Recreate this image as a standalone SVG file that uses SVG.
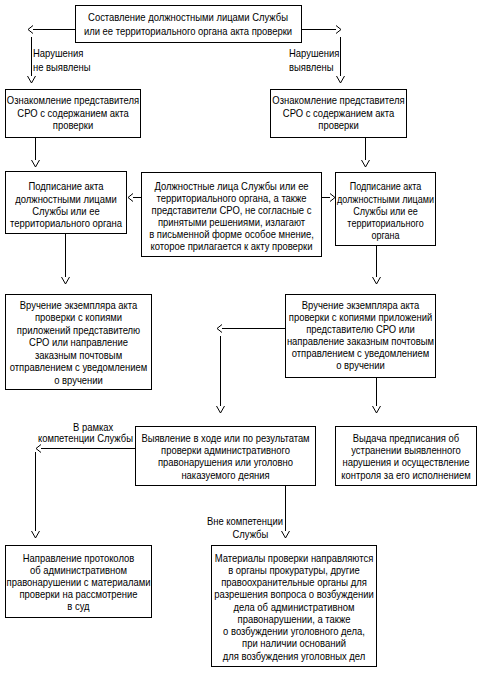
<svg xmlns="http://www.w3.org/2000/svg" width="484" height="675" viewBox="0 0 484 675">
<style>
.bx{fill:#fff;stroke:#000;stroke-width:1;shape-rendering:crispEdges}
.ln{fill:none;stroke:#000;stroke-width:1}
.t{font-family:"Liberation Sans",Arial,sans-serif;font-size:10.5px;fill:#000;text-anchor:middle}
.l{text-anchor:start}
</style>
<defs>
<marker id="ah" markerUnits="userSpaceOnUse" markerWidth="10" markerHeight="10" refX="0" refY="4" orient="auto" overflow="visible"><path d="M0,0 L5,4 L0,8" fill="none" stroke="#000" stroke-width="1"/></marker>
<marker id="av" markerUnits="userSpaceOnUse" markerWidth="10" markerHeight="10" refX="0" refY="4" orient="auto" overflow="visible"><path d="M0,0 L7,4 L0,8" fill="none" stroke="#000" stroke-width="1"/></marker>
</defs>
<rect width="484" height="675" fill="#fff"/>
<g id="connectors">
<path class="ln" d="M75.5,29.5 H33" marker-end="url(#ah)"/>
<path class="ln" d="M31.5,37 V76" marker-end="url(#av)"/>
<path class="ln" d="M301.5,29.5 H336" marker-end="url(#ah)"/>
<path class="ln" d="M340.5,37 V76" marker-end="url(#av)"/>
<path class="ln" d="M35.5,137.5 V160" marker-end="url(#av)"/>
<path class="ln" d="M365.5,137.5 V160" marker-end="url(#av)"/>
<path class="ln" d="M141.5,197.5 H133" marker-end="url(#ah)"/>
<path class="ln" d="M321.5,197.5 H330" marker-end="url(#ah)"/>
<path class="ln" d="M65.5,233.5 V277" marker-end="url(#av)"/>
<path class="ln" d="M376.5,245.5 V277" marker-end="url(#av)"/>
<path class="ln" d="M285.5,328.5 H222" marker-end="url(#ah)"/>
<path class="ln" d="M220.5,336 V406" marker-end="url(#av)"/>
<path class="ln" d="M376.5,377.5 V406" marker-end="url(#av)"/>
<path class="ln" d="M135.5,448.5 H41" marker-end="url(#ah)"/>
<path class="ln" d="M35.5,452 V531" marker-end="url(#av)"/>
<path class="ln" d="M285.5,485.5 V531" marker-end="url(#av)"/>
<text class="t l" transform="translate(33,0) scale(0.9,1)"><tspan x="0" y="57.5">Нарушения</tspan><tspan x="0" y="71">не выявлены</tspan></text>
<text class="t l" transform="translate(289,0) scale(0.9,1)"><tspan x="0" y="57.5">Нарушения</tspan><tspan x="0" y="71">выявлены</tspan></text>
<text class="t l" transform="translate(73,0) scale(0.9,1)"><tspan x="0" y="431">В рамках</tspan></text>
<text class="t l" transform="translate(38,0) scale(0.9,1)"><tspan x="0" y="442.5">компетенции Службы</tspan></text>
<text class="t l" transform="translate(207,0) scale(0.9,1)"><tspan x="0" y="525.5">Вне компетенции</tspan></text>
<text class="t l" transform="translate(232.5,0) scale(0.9,1)"><tspan x="0" y="538.5">Службы</tspan></text>
</g>
<g id="n-top">
<rect class="bx" x="75.5" y="5.5" width="226" height="37"/>
<text class="t" transform="translate(188,0) scale(0.9,1)"><tspan x="0" y="20.75">Составление должностными лицами Службы</tspan><tspan x="0" y="34.75">или ее территориального органа акта проверки</tspan></text>
</g>
<g id="n-oznak-left">
<rect class="bx" x="5.5" y="89.5" width="135" height="48"/>
<text class="t" transform="translate(73,0) scale(0.9,1)"><tspan x="0" y="104.25">Ознакомление представителя</tspan><tspan x="0" y="116.75">СРО с содержанием акта</tspan><tspan x="0" y="129.25">проверки</tspan></text>
</g>
<g id="n-oznak-right">
<rect class="bx" x="270.5" y="89.5" width="136" height="48"/>
<text class="t" transform="translate(338.5,0) scale(0.9,1)"><tspan x="0" y="104.25">Ознакомление представителя</tspan><tspan x="0" y="116.75">СРО с содержанием акта</tspan><tspan x="0" y="129.25">проверки</tspan></text>
</g>
<g id="n-podp-left">
<rect class="bx" x="5.5" y="171.5" width="121" height="62"/>
<text class="t" transform="translate(66,0) scale(0.9,1)"><tspan x="0" y="190.5">Подписание акта</tspan><tspan x="0" y="202.7">должностными лицами</tspan><tspan x="0" y="214.9">Службы или ее</tspan><tspan x="0" y="227.1">территориального органа</tspan></text>
</g>
<g id="n-osoboe">
<rect class="bx" x="141.5" y="172.5" width="180" height="84"/>
<text class="t" transform="translate(231.5,0) scale(0.9,1)"><tspan x="0" y="190.5">Должностные лица Службы или ее</tspan><tspan x="0" y="202.5">территориального органа, а также</tspan><tspan x="0" y="214.5">представители СРО, не согласные с</tspan><tspan x="0" y="226.5">принятыми решениями, излагают</tspan><tspan x="0" y="238.5">в письменной форме особое мнение,</tspan><tspan x="0" y="250.5">которое прилагается к акту проверки</tspan></text>
</g>
<g id="n-podp-right">
<rect class="bx" x="335.5" y="172.5" width="100" height="73"/>
<text class="t" transform="translate(385.5,0) scale(0.86,1)"><tspan x="0" y="190.5">Подписание акта</tspan><tspan x="0" y="202.75">должностными лицами</tspan><tspan x="0" y="215">Службы или ее</tspan><tspan x="0" y="227.25">территориального</tspan><tspan x="0" y="239.5">органа</tspan></text>
</g>
<g id="n-vruch-left">
<rect class="bx" x="5.5" y="294.5" width="146" height="95"/>
<text class="t" transform="translate(78.5,0) scale(0.9,1)"><tspan x="0" y="308.75">Вручение экземпляра акта</tspan><tspan x="0" y="321.25">проверки с копиями</tspan><tspan x="0" y="333.75">приложений представителю</tspan><tspan x="0" y="346.25">СРО или направление</tspan><tspan x="0" y="358.75">заказным почтовым</tspan><tspan x="0" y="371.25">отправлением с уведомлением</tspan><tspan x="0" y="383.75">о вручении</tspan></text>
</g>
<g id="n-vruch-right">
<rect class="bx" x="285.5" y="294.5" width="150" height="83"/>
<text class="t" transform="translate(360.5,0) scale(0.9,1)"><tspan x="0" y="308.75">Вручение экземпляра акта</tspan><tspan x="0" y="320.75">проверки с копиями приложений</tspan><tspan x="0" y="332.75">представителю СРО или</tspan><tspan x="0" y="344.75">направление заказным почтовым</tspan><tspan x="0" y="356.75">отправлением с уведомлением</tspan><tspan x="0" y="368.75">о вручении</tspan></text>
</g>
<g id="n-vyyavl">
<rect class="bx" x="135.5" y="426.5" width="180" height="59"/>
<text class="t" transform="translate(225.5,0) scale(0.9,1)"><tspan x="0" y="442">Выявление в ходе или по результатам</tspan><tspan x="0" y="454.25">проверки административного</tspan><tspan x="0" y="466.5">правонарушения или уголовно</tspan><tspan x="0" y="478.75">наказуемого деяния</tspan></text>
</g>
<g id="n-vydacha">
<rect class="bx" x="335.5" y="426.5" width="141" height="59"/>
<text class="t" transform="translate(406,0) scale(0.9,1)"><tspan x="0" y="442">Выдача предписания об</tspan><tspan x="0" y="454.25">устранении выявленного</tspan><tspan x="0" y="466.5">нарушения и осуществление</tspan><tspan x="0" y="478.75">контроля за его исполнением</tspan></text>
</g>
<g id="n-protokol">
<rect class="bx" x="5.5" y="545.5" width="146" height="72"/>
<text class="t" transform="translate(78.5,0) scale(0.9,1)"><tspan x="0" y="562">Направление протоколов</tspan><tspan x="0" y="574.1">об административном</tspan><tspan x="0" y="586.2">правонарушении с материалами</tspan><tspan x="0" y="598.3">проверки на рассмотрение</tspan><tspan x="0" y="610.4">в суд</tspan></text>
</g>
<g id="n-materialy">
<rect class="bx" x="211.5" y="545.5" width="165" height="121"/>
<text class="t" transform="translate(294,0) scale(0.9,1)"><tspan x="0" y="561.75">Материалы проверки направляются</tspan><tspan x="0" y="574">в органы прокуратуры, другие</tspan><tspan x="0" y="586.25">правоохранительные органы для</tspan><tspan x="0" y="598.5">разрешения вопроса о возбуждении</tspan><tspan x="0" y="610.75">дела об административном</tspan><tspan x="0" y="623">правонарушении, а также</tspan><tspan x="0" y="635.25">о возбуждении уголовного дела,</tspan><tspan x="0" y="647.5">при наличии оснований</tspan><tspan x="0" y="659.75">для возбуждения уголовных дел</tspan></text>
</g>
</svg>
